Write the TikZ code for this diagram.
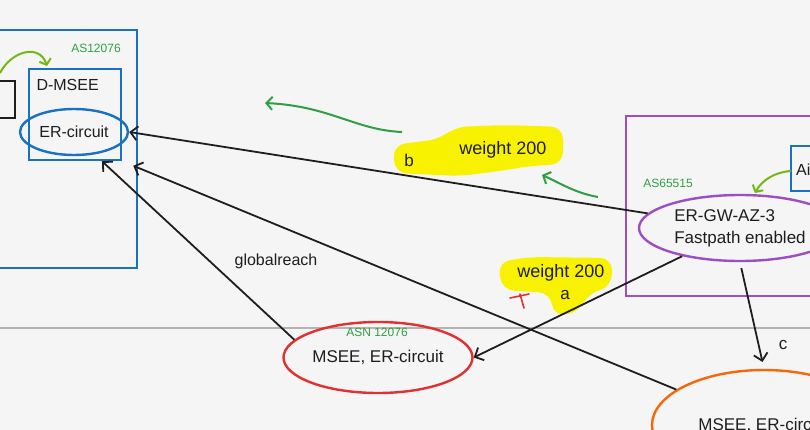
\documentclass[tikz,border=0pt]{standalone}
\usepackage{fontspec}
\setmainfont{Liberation Sans}
\usetikzlibrary{shapes.geometric,arrows.meta}

\definecolor{paper}{HTML}{F5F5F5}
\definecolor{ink}{HTML}{1E1E1E}
\definecolor{asblue}{HTML}{1971C2}
\definecolor{asgreen}{HTML}{2F9E44}
\definecolor{limegreen}{HTML}{74B816}
\definecolor{gwpurple}{HTML}{9C4FC4}
\definecolor{mseered}{HTML}{E03131}
\definecolor{mseeorange}{HTML}{F76707}
\definecolor{hlyellow}{HTML}{F8F200}
\definecolor{divider}{HTML}{B4B4B4}

\begin{document}
\begin{tikzpicture}[x=1pt,y=-1pt,
    every node/.style={text=ink, font=\fontsize{16}{19}\selectfont},
    box/.style={draw, line width=2.4pt, inner sep=0pt},
    oval/.style={ellipse, draw, line width=2.4pt, inner sep=0pt},
    arr/.style={draw=ink, line width=1.8pt, -{Straight Barb[length=7pt,width=14pt]}},
    garr/.style={draw=asgreen, line width=2pt, -{Straight Barb[length=6pt,width=13pt]}},
    larr/.style={draw=limegreen, line width=2pt, -{Straight Barb[length=5pt,width=12pt]}},
    tag/.style={text=asgreen, font=\fontsize{12}{14}\selectfont},
    hl/.style={fill=hlyellow, rounded corners=12pt}]

    % Page
    \fill[paper] (0,0) rectangle (810,430);
    \clip (0,0) rectangle (810,430);

    % Highlights
    \fill[hl] (393,145) -- (440,139) -- (455,127) -- (505,125) -- (563,127)
        -- (563,164) -- (530,166) -- (500,171) -- (460,176) -- (395,173) -- cycle;
    \fill[hl] (498,262) -- (530,257) -- (612,258) -- (612,286) -- (586,295)
        -- (580,312) -- (553,316) -- (551,293) -- (502,290) -- cycle;

    % Divider
    \draw[divider, line width=2.5pt] (0,328) -- (810,328);

    % Left side (AS12076)
    \draw[box, asblue] (-10,30) rectangle (137,268);
    \draw[box, ink] (-10,81) rectangle (15,118);
    \node[box, draw=asblue, minimum width=92, minimum height=91] (dmsee) at (75,114.5) {};
    \node[anchor=west] (dmseetext) at (33,85) {D-MSEE};
    \node[oval, draw=asblue, minimum width=108, minimum height=46] (er) at (74,132) {ER-circuit};
    \node[tag] (as12076) at (96,48) {AS12076};

    % Right side (AS65515)
    \draw[box, gwpurple] (626,116) rectangle (830,296);
    \draw[box, asblue] (791,146) rectangle (830,191);
    \node[anchor=west, inner sep=0pt] (aztext) at (796,170) {Ai};
    \node[tag] (as65515) at (668,183) {AS65515};
    \node[oval, draw=gwpurple, minimum width=202, minimum height=66, align=left,
        font=\fontsize{17}{22}\selectfont] (gw) at (740,228) {ER-GW-AZ-3\\Fastpath enabled};

    % Bottom ellipses
    \node[oval, draw=mseered, minimum width=189, minimum height=71,
        font=\fontsize{17}{20}\selectfont] (msee) at (378,357.5) {MSEE, ER-circuit};
    \node[tag] (asn12076) at (377,332) {ASN 12076};
    \node[oval, draw=mseeorange, minimum width=224, minimum height=110,
        font=\fontsize{17}{20}\selectfont] (mseeb) at (764,425) {MSEE, ER-circuit};

    % Connectors
    \draw[arr] (gw.171) -- (er.east);
    \draw[arr, shorten >=12pt] (mseeb.158) -- (dmsee.south east);
    \draw[arr] (msee.168) -- (dmsee.-60);
    \draw[arr] (gw.206) -- (msee.east);
    \draw[arr, shorten <=6pt, shorten >=7pt] (gw.south) -- (mseeb.north);

    % Green hints
    \coordinate (hintbs) at (402,132);
    \coordinate (hintbe) at (265,103);
    \coordinate (hintas) at (598,197);
    \coordinate (hintae) at (542,175);
    \draw[garr] (hintbs) .. controls (355,130) and (330,106) .. (hintbe);
    \draw[garr] (hintas) .. controls (575,193) and (560,183) .. (hintae);
    \coordinate (peerls) at (0,73);
    \coordinate (peerle) at (47,66);
    \coordinate (peerrs) at (791,171);
    \coordinate (peerre) at (755,193);
    \draw[larr] (peerls) .. controls (12,50) and (40,44) .. (peerle);
    \draw[larr] (peerrs) .. controls (775,172) and (762,180) .. (peerre);

    % Labels
    \node (reach) at (276,261) {globalreach};
    \node[font=\fontsize{18}{20}\selectfont] (wb) at (503,150) {weight 200};
    \node[font=\fontsize{17}{20}\selectfont] (lb) at (409,160) {b};
    \node[font=\fontsize{18}{20}\selectfont] (wa) at (561,273) {weight 200};
    \node[font=\fontsize{17}{20}\selectfont] (la) at (565,295) {a};
    \node[font=\fontsize{17}{20}\selectfont] (lc) at (783,345) {c};
    \draw[mseered, line width=1.6pt, line cap=round] (510,298) -- (529,294) (520,294) -- (524,308);
\end{tikzpicture}
\end{document}
